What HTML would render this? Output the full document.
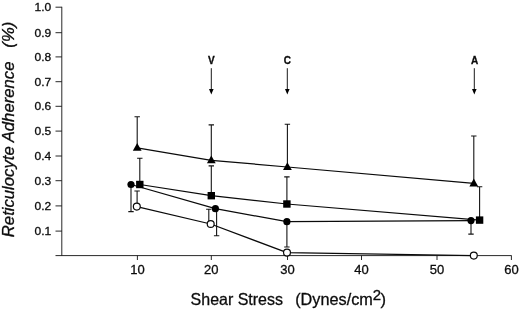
<!DOCTYPE html>
<html><head><meta charset="utf-8"><title>Reticulocyte Adherence vs Shear Stress</title>
<style>html,body{margin:0;padding:0;background:#fff;}body{width:520px;height:310px;overflow:hidden;}svg{display:block;will-change:transform;}text{font-family:"Liberation Sans",Arial,Helvetica,sans-serif;fill:#0c0c0c;stroke:#0c0c0c;stroke-width:0.3px;}</style>
</head><body>
<svg width="520" height="310" viewBox="0 0 520 310">
<rect width="520" height="310" fill="#fff"/>
<g stroke="#111" stroke-width="0.9" fill="none">
<path d="M61.8 6.8V255.6"/>
<path d="M55.5 255.6H511.6"/>
<path d="M55.5 231.10H61.8"/>
<path d="M55.5 205.90H61.8"/>
<path d="M55.5 180.70H61.8"/>
<path d="M55.5 156.00H61.8"/>
<path d="M55.5 131.10H61.8"/>
<path d="M55.5 106.30H61.8"/>
<path d="M55.5 81.70H61.8"/>
<path d="M55.5 56.90H61.8"/>
<path d="M55.5 32.70H61.8"/>
<path d="M55.5 7.20H61.8"/>
<path d="M137.40 255.6V260"/>
<path d="M211.30 255.6V260"/>
<path d="M287.50 255.6V260"/>
<path d="M361.50 255.6V260"/>
<path d="M437.00 255.6V260"/>
<path d="M511.40 255.6V260"/>
</g>
<g font-size="11.5">
<text x="34.5" y="234.90" textLength="16.7" lengthAdjust="spacingAndGlyphs">0.1</text>
<text x="34.5" y="209.70" textLength="16.7" lengthAdjust="spacingAndGlyphs">0.2</text>
<text x="34.5" y="184.50" textLength="16.7" lengthAdjust="spacingAndGlyphs">0.3</text>
<text x="34.5" y="159.80" textLength="16.7" lengthAdjust="spacingAndGlyphs">0.4</text>
<text x="34.5" y="134.90" textLength="16.7" lengthAdjust="spacingAndGlyphs">0.5</text>
<text x="34.5" y="110.10" textLength="16.7" lengthAdjust="spacingAndGlyphs">0.6</text>
<text x="34.5" y="85.50" textLength="16.7" lengthAdjust="spacingAndGlyphs">0.7</text>
<text x="34.5" y="60.70" textLength="16.7" lengthAdjust="spacingAndGlyphs">0.8</text>
<text x="34.5" y="36.50" textLength="16.7" lengthAdjust="spacingAndGlyphs">0.9</text>
<text x="34.5" y="11.00" textLength="16.7" lengthAdjust="spacingAndGlyphs">1.0</text>
</g>
<g font-size="13" text-anchor="middle">
<text x="137.40" y="274.4">10</text>
<text x="211.30" y="274.4">20</text>
<text x="287.50" y="274.4">30</text>
<text x="361.50" y="274.4">40</text>
<text x="437.00" y="274.4">50</text>
<text x="511.40" y="274.4">60</text>
</g>
<g font-size="16.5">
<text x="190.6" y="304.7" textLength="92.4" lengthAdjust="spacingAndGlyphs">Shear Stress</text>
<text x="295.2" y="304.7" textLength="77.6" lengthAdjust="spacingAndGlyphs">(Dynes/cm</text>
<text x="372.8" y="300.3" font-size="15">2</text>
<text x="380.6" y="304.7">)</text>
</g>
<text transform="translate(14 237.2) rotate(-90)" font-size="16.5" font-style="italic" xml:space="preserve" textLength="215.5" lengthAdjust="spacingAndGlyphs">Reticulocyte Adherence   (%)</text>
<g stroke="#141414" stroke-width="1.1" fill="none">
<path d="M137.2 147.8V116.8M134.5 116.8H139.9"/>
<path d="M211.3 160.3V124.9M208.6 124.9H214.0"/>
<path d="M287.4 167.0V124.2M284.7 124.2H290.1"/>
<path d="M473.8 183.4V136.0M471.1 136.0H476.5"/>
<path d="M139.8 184.5V158.3M137.1 158.3H142.5"/>
<path d="M211.3 195.7V165.9M208.6 165.9H214.0"/>
<path d="M286.9 204.0V176.9M284.2 176.9H289.6"/>
<path d="M479.6 220.1V186.7M476.9 186.7H482.3"/>
<path d="M131.0 184.5V211.6M128.3 211.6H133.7"/>
<path d="M216.6 208.7V235.8M213.9 235.8H219.3"/>
<path d="M286.9 221.7V247.0M284.2 247.0H289.6"/>
<path d="M471.0 220.6V234.1M468.3 234.1H473.7"/>
<path d="M137.1 206.6V191.0M134.4 191.0H139.8"/>
<path d="M208.8 224.0V209.3M206.1 209.3H211.5"/>
</g>
<g stroke="#0a0a0a" stroke-width="1.25" fill="none" stroke-linejoin="round">
<polyline points="137.2,147.8 211.3,160.3 287.4,167.0 473.8,183.4"/>
<polyline points="139.8,184.5 211.3,195.7 286.9,204.0 479.6,220.1"/>
<polyline points="131.0,184.5 215.4,208.7 286.9,221.7 471.0,220.6"/>
<polyline points="136.8,206.6 210.7,224.0 287.0,252.6 473.8,255.6"/>
</g>
<g fill="#000" stroke="none">
<path d="M137.2 143.0L141.6 150.8H132.8Z"/>
<path d="M211.3 155.5L215.7 163.3H206.9Z"/>
<path d="M287.4 162.2L291.8 170.0H283.0Z"/>
<path d="M473.8 178.6L478.2 186.4H469.4Z"/>
<rect x="136.1" y="180.8" width="7.4" height="7.4"/>
<rect x="207.6" y="192.0" width="7.4" height="7.4"/>
<rect x="283.2" y="200.3" width="7.4" height="7.4"/>
<rect x="475.9" y="216.4" width="7.4" height="7.4"/>
<circle cx="131.0" cy="184.5" r="3.6"/>
<circle cx="215.4" cy="208.7" r="3.6"/>
<circle cx="286.9" cy="221.7" r="3.6"/>
<circle cx="471.0" cy="220.6" r="3.6"/>
</g>
<g fill="#fff" stroke="#0a0a0a" stroke-width="1.2">
<circle cx="136.8" cy="206.6" r="3.45"/>
<circle cx="210.7" cy="224.0" r="3.45"/>
<circle cx="287.0" cy="252.6" r="3.45"/>
<circle cx="473.8" cy="255.6" r="3.45"/>
</g>
<g stroke="#1a1a1a" stroke-width="1" fill="#000">
<path d="M211.3 68.2V90" fill="none"/>
<path d="M209.0 89L211.3 94.4L213.6 89Z" stroke="none"/>
<path d="M287.3 68.2V90" fill="none"/>
<path d="M285.0 89L287.3 94.4L289.6 89Z" stroke="none"/>
<path d="M474.3 68.2V90" fill="none"/>
<path d="M472.0 89L474.3 94.4L476.6 89Z" stroke="none"/>
</g>
<g font-size="10" font-weight="bold" text-anchor="middle">
<text x="211.3" y="64.2">V</text>
<text x="287.3" y="64.2">C</text>
<text x="474.6" y="64.2">A</text>
</g>
</svg>
</body></html>
